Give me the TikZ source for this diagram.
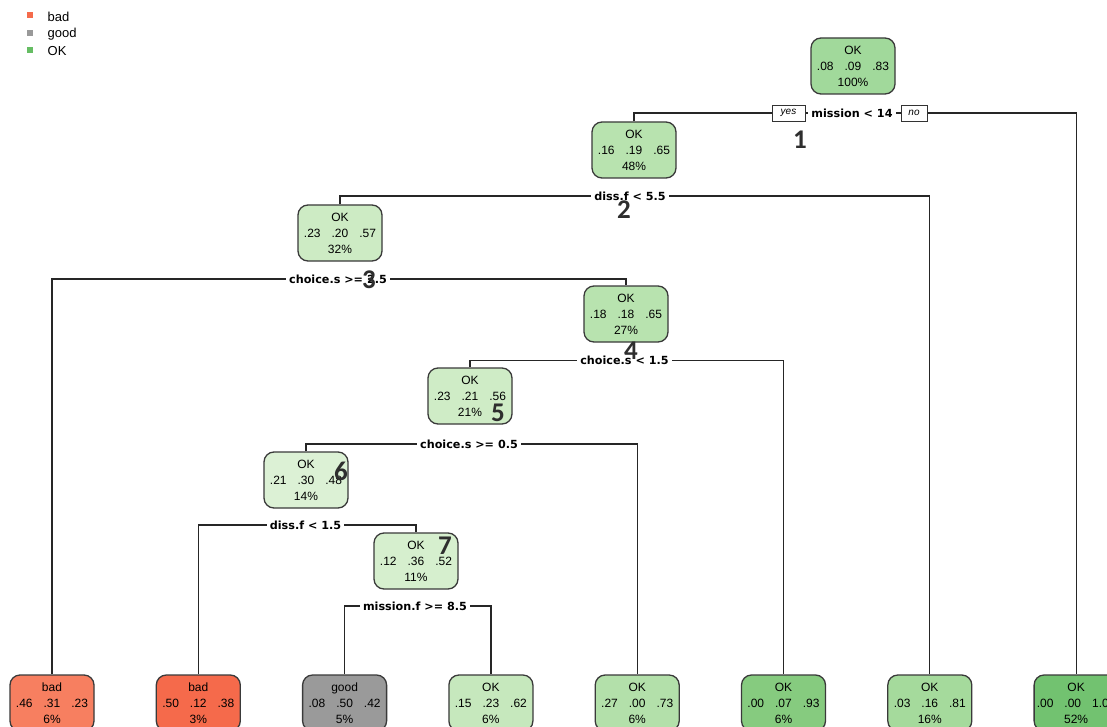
\documentclass[tikz,border=0pt]{standalone}
\usepackage{fontspec}
\setmainfont{Liberation Sans}
\newfontfamily\splitfont{DejaVu Sans}
\newfontfamily\digfont{Carlito}
\definecolor{cA}{HTML}{A1D99B}
\definecolor{cB}{HTML}{B8E3AF}
\definecolor{cC}{HTML}{CDEBC4}
\definecolor{cD}{HTML}{CFECC6}
\definecolor{cE}{HTML}{DCF1D5}
\definecolor{cF}{HTML}{D6EFCE}
\definecolor{cG}{HTML}{C6E8BD}
\definecolor{cH}{HTML}{B3E0AA}
\definecolor{cI}{HTML}{86CB7F}
\definecolor{cJ}{HTML}{A5DA9C}
\definecolor{cK}{HTML}{72C270}
\definecolor{badA}{HTML}{F77F60}
\definecolor{badB}{HTML}{F56A4B}
\definecolor{goodA}{HTML}{9A9A9A}
\definecolor{legbad}{HTML}{F56B4B}
\definecolor{leggood}{HTML}{999999}
\definecolor{legok}{HTML}{66BD63}
\definecolor{bordc}{HTML}{3A3A3A}
\definecolor{digc}{HTML}{2E2E2E}
\newcommand\gp{\hspace{11pt}}
\begin{document}
\begin{tikzpicture}[x=1pt,y=-1pt,
  tn/.style={draw=bordc, line width=1.3pt, rounded corners=10pt, minimum width=84pt, minimum height=56pt, inner sep=0pt, align=center, font=\fontsize{12}{16}\selectfont},
  conn/.style={draw=black!85, line width=1.2pt},
  split/.style={fill=white, inner xsep=3pt, inner ysep=1pt, font=\splitfont\bfseries\fontsize{11.2}{13}\selectfont},
  yn/.style={draw=black!80, fill=white, line width=0.8pt, minimum height=16pt, inner sep=0pt, font=\itshape\fontsize{10}{12}\selectfont},
  dig/.style={text=digc, inner sep=0pt, font=\digfont\bfseries\fontsize{27}{30}\selectfont},
  legsq/.style={minimum size=6pt, inner sep=0pt},
  legtx/.style={anchor=west, inner sep=0pt, font=\fontsize{13}{15}\selectfont}]
\useasboundingbox (0,0) rectangle (1107,727);
\clip (0,0) rectangle (1107,727);
\fill[white] (0,0) rectangle (1107,727);

% legend
\node[legsq, fill=legbad] (lbad) at (29.5,15.5) {};
\node[legsq, fill=leggood] (lgood) at (29.5,33) {};
\node[legsq, fill=legok] (lok) at (29.5,50.5) {};
\node[legtx] (tbad) at (47.5,17) {bad};
\node[legtx] (tgood) at (47.5,34) {good};
\node[legtx] (tok) at (47.5,51.5) {OK};

% split coordinates
\coordinate (s1) at (852,113);
\coordinate (s2) at (630,196);
\coordinate (s3) at (338,279);
\coordinate (s4) at (624.5,360.5);
\coordinate (s5) at (469,444);
\coordinate (s6) at (305.5,525);
\coordinate (s7) at (415,606);

% nodes
\node[tn, fill=cA] (root) at (853,66) {OK\\.08\gp.09\gp.83\\100\%};
\node[tn, fill=cB] (n2) at (634,150) {OK\\.16\gp.19\gp.65\\48\%};
\node[tn, fill=cC] (n3) at (340,233) {OK\\.23\gp.20\gp.57\\32\%};
\node[tn, fill=cB] (n4) at (626,314) {OK\\.18\gp.18\gp.65\\27\%};
\node[tn, fill=cD] (n5) at (470,396) {OK\\.23\gp.21\gp.56\\21\%};
\node[tn, fill=cE] (n6) at (306,480) {OK\\.21\gp.30\gp.48\\14\%};
\node[tn, fill=cF] (n7) at (416,561) {OK\\.12\gp.36\gp.52\\11\%};

\node[tn, fill=badA] (l1) at (52,703) {bad\\.46\gp.31\gp.23\\6\%};
\node[tn, fill=badB] (l2) at (198.3,703) {bad\\.50\gp.12\gp.38\\3\%};
\node[tn, fill=goodA] (l3) at (344.6,703) {good\\.08\gp.50\gp.42\\5\%};
\node[tn, fill=cG] (l4) at (490.9,703) {OK\\.15\gp.23\gp.62\\6\%};
\node[tn, fill=cH] (l5) at (637.2,703) {OK\\.27\gp.00\gp.73\\6\%};
\node[tn, fill=cI] (l6) at (783.5,703) {OK\\.00\gp.07\gp.93\\6\%};
\node[tn, fill=cJ] (l7) at (929.8,703) {OK\\.03\gp.16\gp.81\\16\%};
\node[tn, fill=cK] (l8) at (1076.1,703) {OK\\.00\gp.00\gp1.00\\52\%};

% connectors
\draw[conn] (n2.north) |- (s1) -| (l8.north);
\draw[conn] (n3.north) |- (s2) -| (l7.north);
\draw[conn] (l1.north) |- (s3) -| (n4.north);
\draw[conn] (n5.north) |- (s4) -| (l6.north);
\draw[conn] (n6.north) |- (s5) -| (l5.north);
\draw[conn] (l2.north) |- (s6) -| (n7.north);
\draw[conn] (l3.north) |- (s7) -| (l4.north);

% split labels
\node[split] (t1) at (s1) {mission < 14};
\node[yn, minimum width=33pt] (yes) at (788.5,113) {yes};
\node[yn, minimum width=26pt] (no) at (914,113) {no};
\node[split] (t2) at (s2) {diss.f < 5.5};
\node[split] (t3) at (s3) {choice.s >= 2.5};
\node[split] (t4) at (s4) {choice.s < 1.5};
\node[split] (t5) at (s5) {choice.s >= 0.5};
\node[split] (t6) at (s6) {diss.f < 1.5};
\node[split] (t7) at (s7) {mission.f >= 8.5};

% node numbers
\node[dig] (d1) at (800,140) {1};
\node[dig] (d2) at (624,210) {2};
\node[dig] (d3) at (369,280) {3};
\node[dig] (d4) at (631,351) {4};
\node[dig] (d5) at (498,413) {5};
\node[dig] (d6) at (341,471) {6};
\node[dig] (d7) at (445,546) {7};
\end{tikzpicture}
\end{document}
